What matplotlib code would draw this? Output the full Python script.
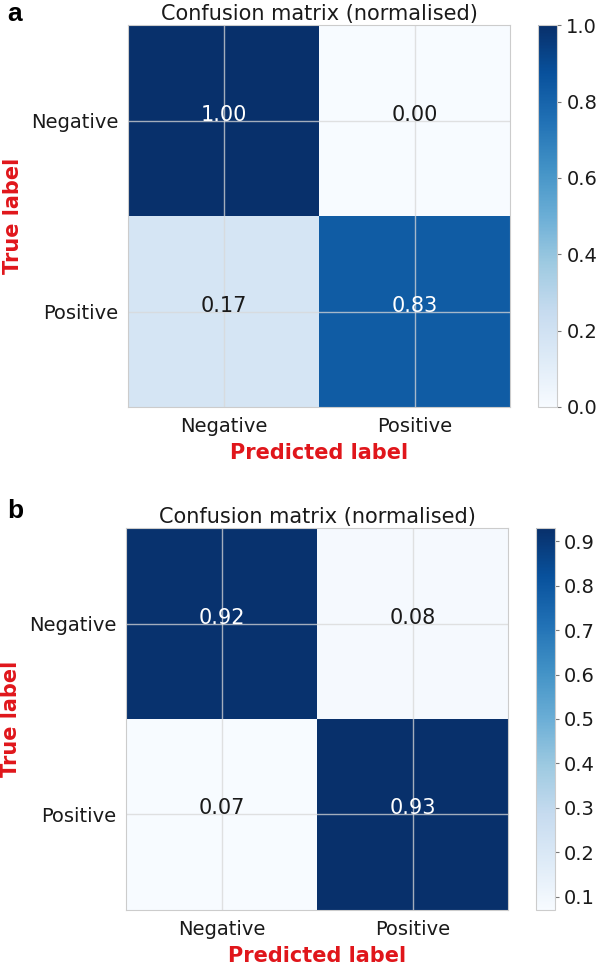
import matplotlib
matplotlib.use('Agg')
import matplotlib.pyplot as plt
import numpy as np

classes = ['Negative', 'Positive']
cm_a = np.array([[1.00, 0.00],
                 [0.17, 0.83]])
cm_b = np.array([[0.92, 0.08],
                 [0.07, 0.93]])
panel_labels = ['a', 'b']

red = '#e0161b'
edge = '#cccccc'


def draw_cm(fig, ax, cax, cm):
    im = ax.imshow(cm, interpolation='nearest', cmap=plt.cm.Blues, aspect='auto')
    ax.set_title('Confusion matrix (normalised)', fontsize=15, pad=4, color='#1a1a1a')
    cb = fig.colorbar(im, cax=cax)
    cb.outline.set_edgecolor(edge)
    cb.ax.tick_params(labelsize=14, color='#777777', length=3, labelcolor='#1a1a1a')

    ticks = np.arange(len(classes))
    ax.set_xticks(ticks)
    ax.set_xticklabels(classes, fontsize=14, color='#1a1a1a')
    ax.set_yticks(ticks)
    ax.set_yticklabels(classes, fontsize=14, color='#1a1a1a')
    ax.tick_params(length=0, pad=7)
    ax.grid(True, color='#d8d8d8', linewidth=1, alpha=0.75)
    for s in ax.spines.values():
        s.set_edgecolor(edge)

    # cell values, white on dark cells
    thresh = cm.max() / 2.
    for i in range(cm.shape[0]):
        for j in range(cm.shape[1]):
            ax.text(j, i, f'{cm[i, j]:.2f}', ha='center', va='baseline', fontsize=15,
                    color='white' if cm[i, j] > thresh else '#1a1a1a')

    ax.set_ylabel('True label', fontsize=15, fontweight='bold', color=red, labelpad=6)
    ax.set_xlabel('Predicted label', fontsize=15, fontweight='bold', color=red, labelpad=5)


fig = plt.figure(figsize=(5.98, 9.69), dpi=100)

ax_a = fig.add_axes([0.214, 0.580, 0.639, 0.394])
cax_a = fig.add_axes([0.900, 0.580, 0.032, 0.394])
ax_b = fig.add_axes([0.211, 0.061, 0.639, 0.394])
cax_b = fig.add_axes([0.897, 0.061, 0.031, 0.394])

draw_cm(fig, ax_a, cax_a, cm_a)
draw_cm(fig, ax_b, cax_b, cm_b)

fig.text(0.012, 0.986, panel_labels[0], fontsize=19, fontweight='bold', va='center', family='Liberation Sans')
fig.text(0.012, 0.473, panel_labels[1], fontsize=19, fontweight='bold', va='center', family='Liberation Sans')

fig.savefig('out.png', dpi=100)
